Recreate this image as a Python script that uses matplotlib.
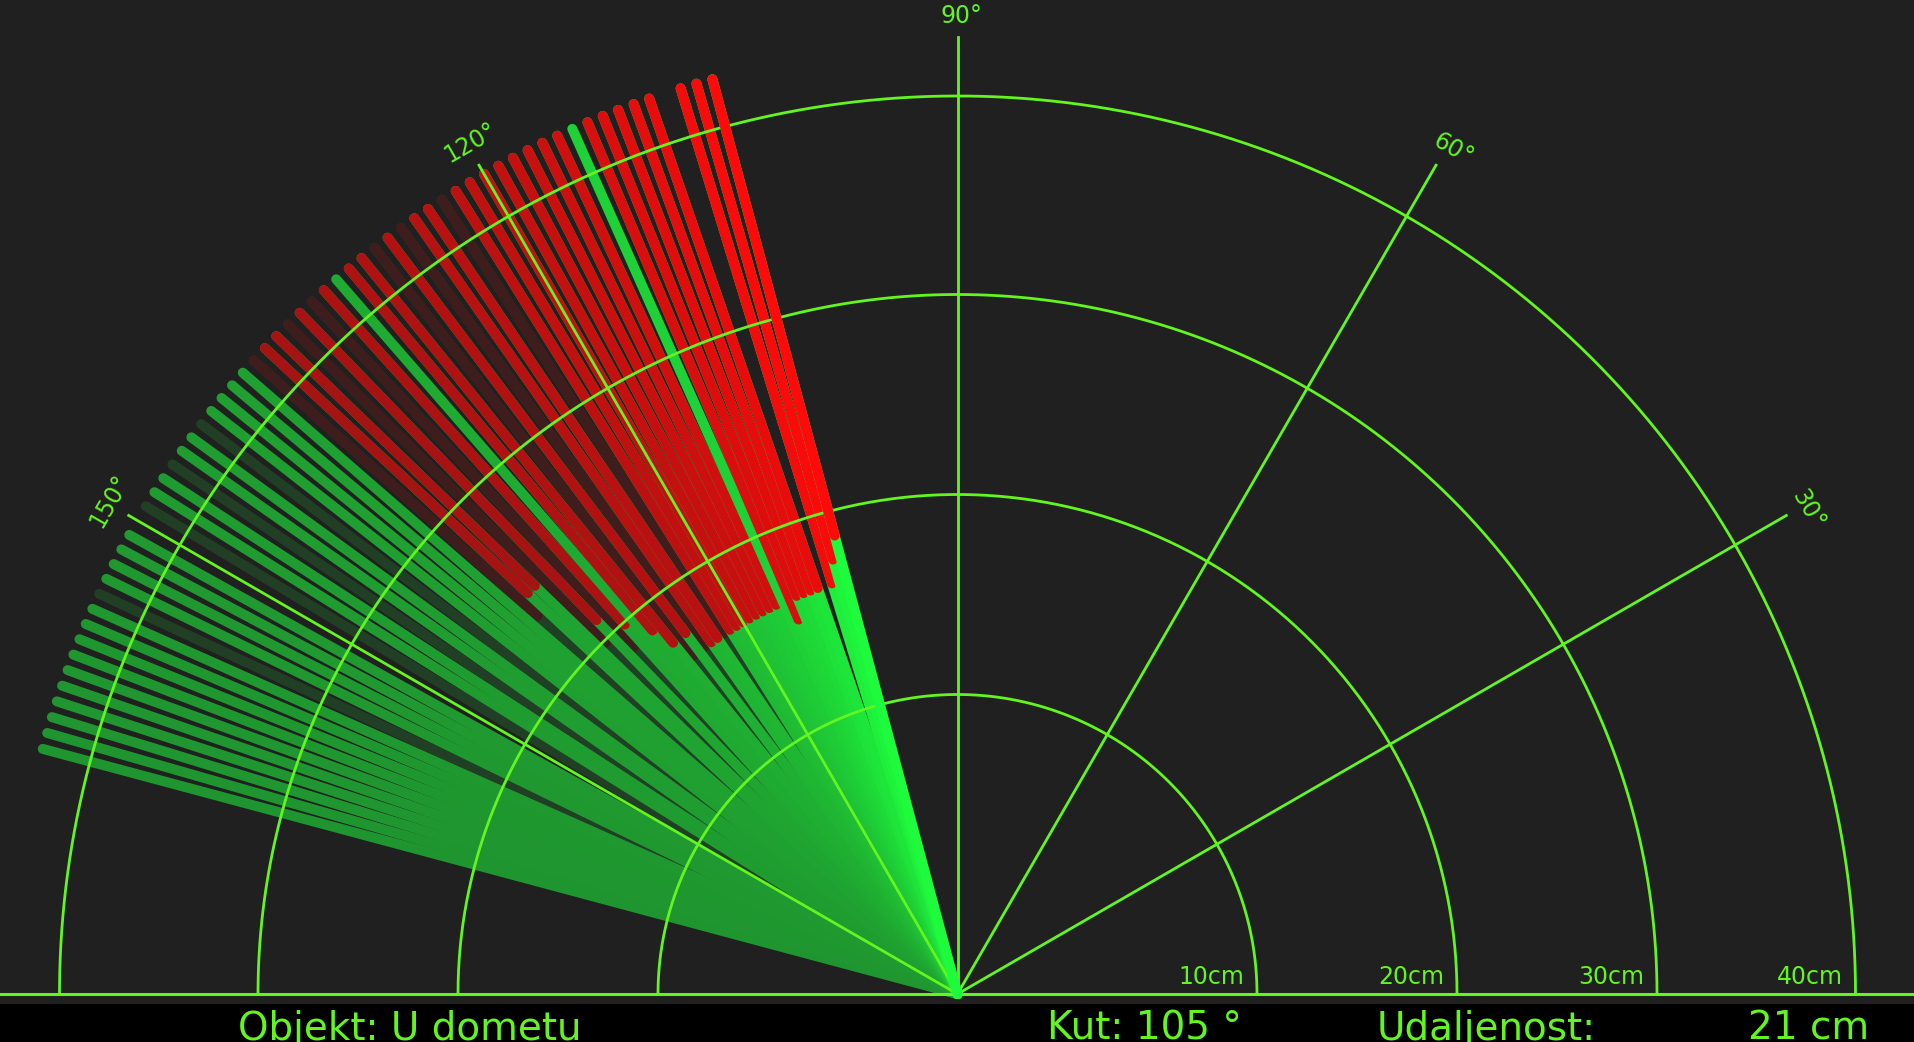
import numpy as np
import matplotlib
matplotlib.use('Agg')
import matplotlib.pyplot as plt
from matplotlib.patches import Rectangle

sweep_angles = [105, 106, 107, 109, 110, 111, 112, 113, 114, 115, 116, 117, 118, 119,
                120, 121, 122, 124, 125, 127, 129, 130, 131, 132, 134, 136, 137, 139,
                140, 141, 142, 144, 145, 147, 148, 151, 152, 153, 154, 156, 157, 158,
                159, 160, 161, 162, 163, 164, 165]
sweep_dist = [21, 20, 19, 19, 19, 19, 19, 18, None, 19, 19, 19, 19, 19,
              19, 19, 19, 19, 19, 20, 20, 21, None, 22, 23, 26, 26, None,
              None, None, None, None, None, None, None, None, None, None, None, None, None, None,
              None, None, None, None, None, None, None]

# faded lines left over from the previous sweep
old_angles = [123, 126, 128, 133, 135, 138, 143, 146, 149, 155]
old_dist = [19, 19, 19, 21, 22, 25, None, None, None, None]

grid_angles = [30, 60, 90, 120, 150]
ring_radii = [299.5, 499.5, 699.5, 898]
ring_labels = ['10cm', '20cm', '30cm', '40cm']

status = 'U dometu'
cur_angle = 105
cur_dist = 21

BG = np.array([32, 32, 32]) / 255
GRID = '#62f51f'
GREEN = np.array([30, 250, 60]) / 255
RED = np.array([255, 10, 10]) / 255
PX_PER_CM = 22.6
LINE_LEN = 947
LW = 10 * 72 / 100


def faded(c, f):
    return tuple(BG + (c - BG) * f)


def sweep_line(ang, dist, f, z):
    a = np.radians(ang)
    ax.plot([0, LINE_LEN * np.cos(a)], [0, LINE_LEN * np.sin(a)], color=faded(GREEN, f),
            lw=LW, solid_capstyle='round', zorder=z)
    if dist is not None:
        r0 = dist * PX_PER_CM
        ax.plot([r0 * np.cos(a), LINE_LEN * np.cos(a)], [r0 * np.sin(a), LINE_LEN * np.sin(a)],
                color=faded(RED, f), lw=LW, solid_capstyle='round', zorder=z + 0.5)


fig = plt.figure(figsize=(19.14, 10.42), dpi=100)
fig.patch.set_facecolor(BG)
ax = fig.add_axes([0, 0, 1, 1])
ax.set_facecolor(BG)
ax.set_xlim(-957.5, 956.5)
ax.set_ylim(-48, 994)
ax.axis('off')

# old sweep at the bottom
for ang, d in zip(old_angles, old_dist):
    sweep_line(ang, d, 0.14, 1)

# current sweep, oldest first so the newest sits on top
z = 2
for ang, d in list(zip(sweep_angles, sweep_dist))[:0:-1]:
    age = ang - cur_angle
    sweep_line(ang, d, 0.52 + 0.48 * np.exp(-age / 18), z)
    z += 1

# radar grid
t = np.linspace(0, np.pi, 400)
for r in ring_radii:
    ax.plot(r * np.cos(t), r * np.sin(t), color=GRID, lw=2, zorder=500)
ax.plot([-957, 957], [0, 0], color=GRID, lw=2.2, zorder=500)
for g in grid_angles:
    a = np.radians(g)
    ax.plot([0, 957 * np.cos(a)], [0, 957 * np.sin(a)], color=GRID, lw=2, zorder=500)

# newest line drawn over the grid
sweep_line(sweep_angles[0], sweep_dist[0], 1.0, 600)

# labels
for x, s in zip([220.5, 420.5, 620.5, 819.5], ring_labels):
    ax.text(x, 10, s, color=GRID, fontsize=17, ha='left', va='baseline', zorder=700)

deg_pos = [(850.5, 484), (495.5, 845), (3.5, 978), (-486.5, 851), (-847.5, 493)]
for g, (x, y) in zip(grid_angles, deg_pos):
    ax.text(x, y, f'{g}°', color=GRID, fontsize=17, ha='center', va='center',
            rotation=g - 90, rotation_mode='anchor', zorder=700)

# status bar (text sits low, clipped by the window edge like the original)
ax.add_patch(Rectangle((-960, -60), 1920, 50.5, facecolor='black', edgecolor='none', zorder=650))
ax.text(-719.5, -46, 'Objekt: ' + status, color=GRID, fontsize=28, va='baseline', zorder=700)
ax.text(89.5, -46, f'Kut: {cur_angle} °', color=GRID, fontsize=28, va='baseline', zorder=700)
ax.text(419.5, -46, 'Udaljenost:', color=GRID, fontsize=28, va='baseline', zorder=700)
ax.text(790.5, -46, f'{cur_dist} cm', color=GRID, fontsize=28, va='baseline', zorder=700)

fig.savefig('out.png', dpi=100, facecolor=fig.get_facecolor())
